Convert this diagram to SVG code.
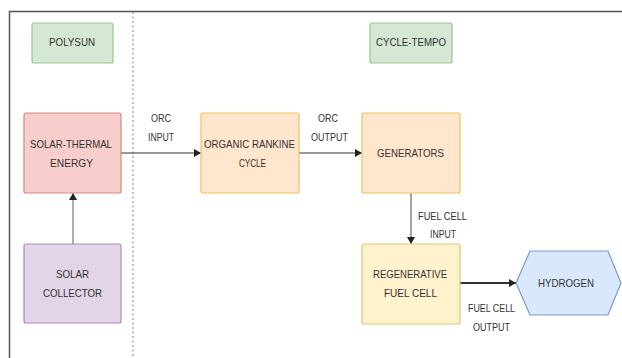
<svg xmlns="http://www.w3.org/2000/svg" width="622" height="358" viewBox="0 0 622 358">
<style>
.t{font-family:"Liberation Sans",Arial,sans-serif;font-size:11.5px;fill:#333;text-anchor:middle}
.c{stroke:#333;stroke-width:1.2;fill:none}
.green{fill:#d5e8d4;stroke:#9cc48e;stroke-width:1.2}
.red{fill:#f8cecc;stroke:#d9877f;stroke-width:1.2}
.orange{fill:#ffe6cc;stroke:#f0c060;stroke-width:1.2}
.purple{fill:#e1d5e7;stroke:#a98bba;stroke-width:1.2}
.yellow{fill:#fff2cc;stroke:#e0c570;stroke-width:1.2}
.blue{fill:#dae8fc;stroke:#7d9ccb;stroke-width:1.2}
</style>
<defs>
<marker id="ah" markerWidth="8" markerHeight="8" refX="7" refY="4" orient="auto" markerUnits="userSpaceOnUse">
<path d="M0,0 L7,4 L0,8 Z" fill="#222"/>
</marker>
</defs>
<rect width="622" height="358" fill="#fff"/>
<g id="frame">
<line x1="9" y1="11.5" x2="622" y2="11.5" stroke="#555" stroke-width="1.5"/>
<line x1="9.5" y1="11" x2="9.5" y2="358" stroke="#555" stroke-width="1.5"/>
<line x1="133" y1="12" x2="133" y2="358" stroke="#999" stroke-width="1.2" stroke-dasharray="2,2.5"/>
</g>
<g id="connectors">
<line class="c" x1="121" y1="153" x2="201" y2="153" marker-end="url(#ah)"/>
<text class="t" x="161" y="122" textLength="20" lengthAdjust="spacingAndGlyphs">ORC</text>
<text class="t" x="161" y="141" textLength="26" lengthAdjust="spacingAndGlyphs">INPUT</text>
<line class="c" x1="299" y1="153" x2="362" y2="153" marker-end="url(#ah)"/>
<text class="t" x="328" y="122" textLength="20" lengthAdjust="spacingAndGlyphs">ORC</text>
<text class="t" x="329.5" y="141" textLength="37" lengthAdjust="spacingAndGlyphs">OUTPUT</text>
<line x1="73" y1="244" x2="73" y2="193" stroke="#777" stroke-width="1.2" marker-end="url(#ah)"/>
<line x1="411" y1="193" x2="411" y2="244" stroke="#666" stroke-width="1.2" marker-end="url(#ah)"/>
<text class="t" x="442.5" y="220" textLength="49" lengthAdjust="spacingAndGlyphs">FUEL  CELL</text>
<text class="t" x="443" y="238" textLength="26" lengthAdjust="spacingAndGlyphs">INPUT</text>
<line x1="460" y1="283" x2="516" y2="283" stroke="#333" stroke-width="2" marker-end="url(#ah)"/>
<text class="t" x="491.5" y="312" textLength="47" lengthAdjust="spacingAndGlyphs">FUEL CELL</text>
<text class="t" x="491.5" y="331" textLength="37" lengthAdjust="spacingAndGlyphs">OUTPUT</text>
</g>
<g id="polysun">
<rect class="green" x="32" y="23" width="81" height="40" rx="2"/>
<text class="t" x="72" y="46" textLength="46" lengthAdjust="spacingAndGlyphs">POLYSUN</text>
</g>
<g id="cycle-tempo">
<rect class="green" x="370" y="23" width="82" height="40" rx="2"/>
<text class="t" x="411" y="46" textLength="70" lengthAdjust="spacingAndGlyphs">CYCLE-TEMPO</text>
</g>
<g id="solar-thermal">
<rect class="red" x="24" y="113" width="97" height="80" rx="2"/>
<text class="t" x="71" y="148" textLength="82" lengthAdjust="spacingAndGlyphs">SOLAR-THERMAL</text>
<text class="t" x="71.5" y="167" textLength="43" lengthAdjust="spacingAndGlyphs">ENERGY</text>
</g>
<g id="orc">
<rect class="orange" x="201" y="113" width="98" height="80" rx="2"/>
<text class="t" x="249.5" y="148" textLength="91" lengthAdjust="spacingAndGlyphs">ORGANIC RANKINE</text>
<text class="t" x="252.5" y="167" textLength="27" lengthAdjust="spacingAndGlyphs">CYCLE</text>
</g>
<g id="generators">
<rect class="orange" x="362" y="113" width="98" height="80" rx="2"/>
<text class="t" x="410.5" y="157" textLength="67" lengthAdjust="spacingAndGlyphs">GENERATORS</text>
</g>
<g id="solar-collector">
<rect class="purple" x="24" y="244" width="97" height="79" rx="2"/>
<text class="t" x="72.5" y="278" textLength="33" lengthAdjust="spacingAndGlyphs">SOLAR</text>
<text class="t" x="72.5" y="297" textLength="59" lengthAdjust="spacingAndGlyphs">COLLECTOR</text>
</g>
<g id="fuel-cell">
<rect class="yellow" x="362" y="244" width="98" height="80" rx="2"/>
<text class="t" x="410" y="278" textLength="74" lengthAdjust="spacingAndGlyphs">REGENERATIVE</text>
<text class="t" x="410.5" y="297" textLength="53" lengthAdjust="spacingAndGlyphs">FUEL CELL</text>
</g>
<g id="hydrogen">
<polygon class="blue" points="516,283 530,251 608,251 621,283 608,315 530,315"/>
<text class="t" x="566" y="287" textLength="56" lengthAdjust="spacingAndGlyphs">HYDROGEN</text>
</g>
</svg>
